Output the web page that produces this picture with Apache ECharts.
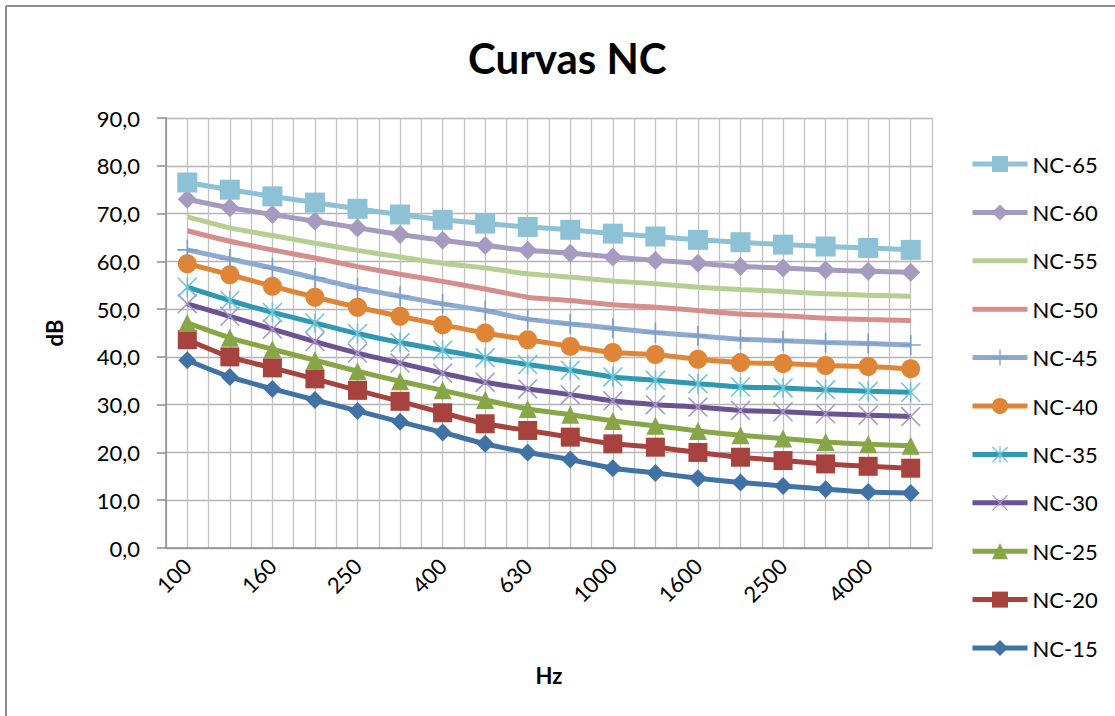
<!DOCTYPE html>
<html>
<head>
<meta charset="utf-8">
<script src="https://cdn.jsdelivr.net/npm/echarts@6/dist/echarts.min.js"></script>
<style>html,body{margin:0;padding:0;background:#fff;}#c{width:1115px;height:716px;}</style>
</head>
<body>
<div id="c"></div>
<script>
var frequencies = ['100','125','160','200','250','315','400','500','630','800','1000','1250','1600','2000','2500','3150','4000','5000'];
var seriesNames = ['NC-15','NC-20','NC-25','NC-30','NC-35','NC-40','NC-45','NC-50','NC-55','NC-60','NC-65'];
var nc15 = [39.3,35.8,33.3,31.0,28.7,26.4,24.2,21.8,20.0,18.5,16.7,15.7,14.6,13.7,13.0,12.3,11.7,11.5];
var nc20 = [43.6,40.0,37.7,35.4,33.0,30.7,28.3,26.0,24.6,23.2,21.8,21.1,20.0,19.0,18.3,17.6,17.1,16.7];
var nc25 = [47.1,44.0,41.6,39.3,37.0,34.9,33.0,31.0,29.1,27.9,26.6,25.6,24.5,23.6,22.9,22.2,21.7,21.4];
var nc30 = [51.1,48.5,45.8,43.2,40.8,38.7,36.6,34.7,33.3,32.1,30.8,30.0,29.5,28.8,28.5,28.1,27.8,27.5];
var nc35 = [54.6,51.8,49.3,47.1,44.9,43.0,41.4,39.8,38.4,37.2,35.8,35.1,34.4,33.7,33.5,33.1,32.8,32.6];
var nc40 = [59.5,57.2,54.8,52.5,50.4,48.5,46.7,45.0,43.6,42.2,40.9,40.5,39.5,38.8,38.6,38.2,38.0,37.5];
var nc45 = [62.4,60.5,58.6,56.5,54.4,52.7,51.1,49.7,47.9,46.9,46.0,45.1,44.4,43.7,43.4,43.0,42.8,42.5];
var nc50 = [66.4,64.2,62.4,60.7,58.9,57.3,55.8,54.2,52.5,51.8,50.9,50.4,49.7,49.0,48.6,48.1,47.8,47.6];
var nc55 = [69.3,67.0,65.4,63.8,62.3,60.9,59.6,58.6,57.4,56.7,55.9,55.3,54.6,54.1,53.7,53.2,52.9,52.7];
var nc60 = [73.0,71.2,69.8,68.4,67.0,65.6,64.4,63.3,62.3,61.7,60.9,60.2,59.6,58.9,58.6,58.2,57.9,57.7];
var nc65 = [76.5,75.0,73.6,72.3,71.0,69.8,68.7,67.9,67.2,66.6,65.8,65.2,64.5,64.0,63.5,63.1,62.8,62.4];

var FONT = 'Lato, "Open Sans", "DejaVu Sans", sans-serif';
var VBAR = 'M9.2,0 L10.8,0 L10.8,20 L9.2,20 Z';
var HBAR = 'M0,9.2 L20,9.2 L20,10.8 L0,10.8 Z';
var D1 = 'M0,1.1 L1.1,0 L20,18.9 L18.9,20 Z';
var D2 = 'M18.9,0 L20,1.1 L1.1,20 L0,18.9 Z';
var plusPath = 'path://' + VBAR + ' ' + HBAR;
var starPath = 'path://' + VBAR + ' ' + D1 + ' ' + D2;
var xPath = 'path://' + D1 + ' ' + D2;

// each category occupies 2 units on a value x axis (half-category gridlines)
function pts(values) {
  return values.map(function (v, i) { return [2 * i + 1, v]; });
}

function mk(name, data, lineColor, markColor, symbol, size) {
  return {
    name: name, type: 'line', data: pts(data), smooth: 0.2,
    symbol: symbol, symbolSize: size,
    lineStyle: { color: lineColor, width: 5 },
    itemStyle: { color: markColor }
  };
}

var series = [
  mk('NC-15', nc15, '#4172A5', '#4172A5', 'diamond', 18),
  mk('NC-20', nc20, '#A8423E', '#A8423E', 'rect', 19),
  mk('NC-25', nc25, '#87A645', '#87A645', 'triangle', 18),
  mk('NC-30', nc30, '#6B5292', '#A896CB', xPath, 20),
  mk('NC-35', nc35, '#2F99B4', '#6CC3D8', starPath, 20),
  mk('NC-40', nc40, '#E08535', '#E08535', 'circle', 19),
  mk('NC-45', nc45, '#8EAAD1', '#7C9DCB', plusPath, 20),
  mk('NC-50', nc50, '#D68E8C', '#D68E8C', 'none', 0),
  mk('NC-55', nc55, '#B5CF92', '#B5CF92', 'none', 0),
  mk('NC-60', nc60, '#A69AC0', '#A69AC0', 'diamond', 19),
  mk('NC-65', nc65, '#8DC1D5', '#8DC1D5', 'rect', 20)
];

var legendData = seriesNames.slice().reverse().map(function (n) {
  return (n === 'NC-50' || n === 'NC-55') ? { name: n, itemStyle: { opacity: 0 } } : { name: n };
});

var chart = echarts.init(document.getElementById('c'), null, { renderer: 'svg' });
chart.setOption({
  backgroundColor: '#fff',
  animation: false,
  title: {
    text: 'Curvas NC', left: 463, top: 32,
    textStyle: { fontSize: 42, fontWeight: 'bold', color: '#000', fontFamily: FONT }
  },
  legend: {
    orient: 'vertical', left: 965, top: 148,
    data: legendData,
    itemWidth: 55, itemHeight: 20, itemGap: 26.4,
    lineStyle: { width: 5 },
    textStyle: { fontSize: 22, color: '#000', fontFamily: FONT },
    selectedMode: false
  },
  grid: { left: 166, right: 183, top: 118, bottom: 168 },
  xAxis: {
    type: 'value', min: 0, max: 2 * frequencies.length, interval: 1,
    axisLine: { show: true, onZero: false, lineStyle: { color: '#8c8c8c', width: 1.5 } },
    axisTick: { show: false },
    axisLabel: {
      rotate: 45, fontSize: 22, color: '#000', margin: 14, fontFamily: FONT,
      showMinLabel: true, showMaxLabel: true,
      formatter: function (v) {
        if (v % 4 !== 1) return '';
        var idx = (v - 1) / 2;
        return frequencies[idx] || '';
      }
    },
    splitLine: { show: true, lineStyle: { color: '#c2c2c2', width: 1.3 } },
    name: 'Hz', nameLocation: 'middle', nameGap: 116,
    nameTextStyle: { fontSize: 22, fontWeight: 'bold', color: '#000', fontFamily: FONT }
  },
  yAxis: {
    type: 'value', min: 0, max: 90, interval: 10,
    axisLine: { show: true, lineStyle: { color: '#8c8c8c', width: 1.5 } },
    axisTick: { show: true, length: 9, lineStyle: { color: '#8c8c8c', width: 1.5 } },
    axisLabel: {
      fontSize: 22, color: '#000', margin: 26, fontFamily: FONT,
      formatter: function (v) { return v.toFixed(1).replace('.', ','); }
    },
    splitLine: { show: true, lineStyle: { color: '#b4b4b4', width: 1.3 } },
    name: 'dB', nameLocation: 'middle', nameGap: 101, nameRotate: 90,
    nameTextStyle: { fontSize: 22, fontWeight: 'bold', color: '#000', fontFamily: FONT }
  },
  series: series,
  graphic: [
    { type: 'line', shape: { x1: 6, y1: 6, x2: 1115, y2: 6 }, style: { stroke: '#8c8c8c', lineWidth: 2 }, silent: true },
    { type: 'line', shape: { x1: 6, y1: 6, x2: 6, y2: 716 }, style: { stroke: '#8c8c8c', lineWidth: 2 }, silent: true }
  ]
});
</script>
</body>
</html>
